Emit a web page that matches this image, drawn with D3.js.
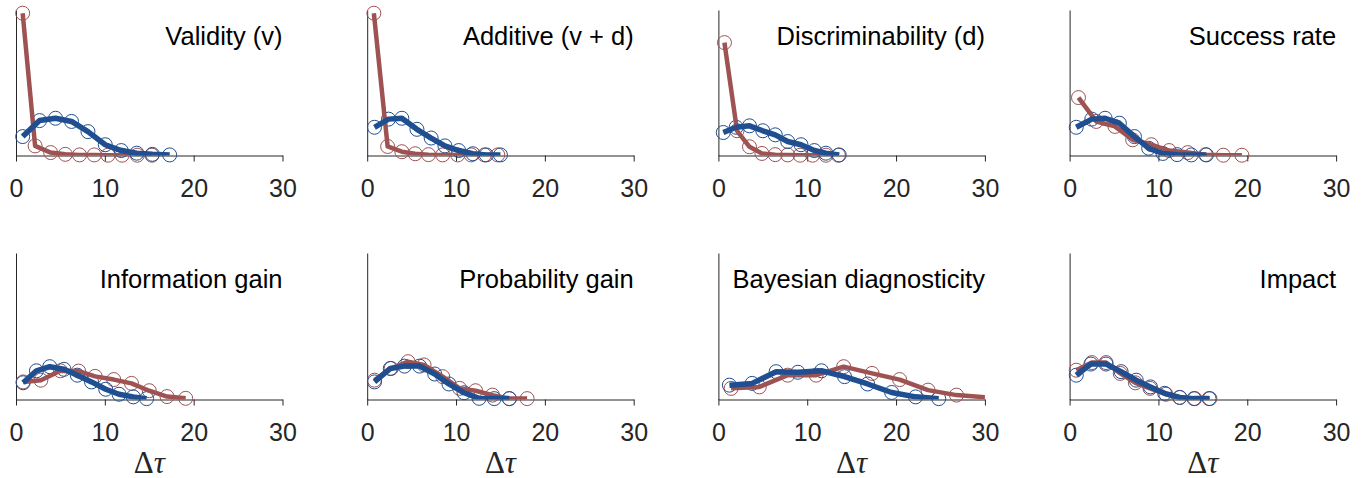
<!DOCTYPE html>
<html>
<head>
<meta charset="utf-8">
<script src="https://cdn.jsdelivr.net/npm/d3@7"></script>
<style>
  body { margin: 0; background: #fff; }
  svg { display: block; }
</style>
</head>
<body>
<svg id="chart"></svg>
<script>
// panel titles, row by row
const titles = ["Validity (v)", "Additive (v + d)", "Discriminability (d)", "Success rate",
                "Information gain", "Probability gain", "Bayesian diagnosticity", "Impact"];
const xTicks = [0, 10, 20, 30];

// red series (one array per panel)
const redX = [
  [0.75, 2.15, 3.9, 5.55, 7.15, 8.8, 10.35, 11.95, 13.65, 15.3],
  [0.75, 2.3, 3.9, 5.4, 6.9, 8.5, 10.2, 11.7, 13.2, 14.7],
  [0.68, 2.1, 3.5, 4.9, 6.4, 7.8, 9.2, 10.6, 12.1, 13.5],
  [1.0, 3.0, 5.1, 7.1, 9.2, 11.2, 13.3, 15.3, 17.3, 19.4],
  [0.8, 2.8, 5.0, 7.05, 8.9, 11.0, 13.0, 15.0, 17.0, 19.1],
  [0.82, 2.7, 4.6, 6.4, 8.5, 10.4, 12.2, 14.1, 16.0, 18.0],
  [1.43, 4.6, 7.8, 11.0, 14.1, 17.3, 20.4, 23.6, 26.8, 30.3],
  [0.75, 2.5, 4.1, 5.7, 7.4, 9.05, 10.85, 12.4, 14.1, 15.8]
];
const redY = [
  [0.489, 0.033, 0.010, 0.004, 0.002, 0.002, 0.001, 0.001, 0.001, 0.001],
  [0.489, 0.031, 0.013, 0.006, 0.003, 0.002, 0.002, 0.002, 0.002, 0.002],
  [0.388, 0.085, 0.030, 0.007, 0.003, 0.002, 0.001, 0.001, 0.001, 0.001],
  [0.199, 0.117, 0.100, 0.054, 0.037, 0.017, 0.010, 0.003, 0.001, 0.001],
  [0.060, 0.066, 0.098, 0.097, 0.079, 0.068, 0.055, 0.030, 0.010, 0.004],
  [0.066, 0.106, 0.129, 0.118, 0.078, 0.038, 0.030, 0.015, 0.003, 0.003],
  [0.038, 0.043, 0.083, 0.083, 0.112, 0.089, 0.068, 0.032, 0.015, 0.007],
  [0.100, 0.126, 0.126, 0.089, 0.057, 0.038, 0.018, 0.007, 0.003, 0.003]
];

// blue series
const blueX = [
  [0.75, 2.65, 4.45, 6.25, 8.1, 10.05, 11.85, 13.6, 15.35, 17.3],
  [0.82, 2.4, 3.9, 5.6, 7.2, 8.75, 10.3, 11.9, 13.4, 15.0],
  [0.55, 2.0, 3.5, 5.0, 6.4, 7.8, 9.3, 10.8, 12.1, 13.6],
  [0.75, 2.5, 4.0, 5.6, 7.3, 8.9, 10.5, 12.1, 13.7, 15.4],
  [0.8, 2.3, 3.8, 5.4, 6.9, 8.5, 10.1, 11.6, 13.2, 14.7],
  [0.82, 2.6, 4.2, 5.9, 7.6, 9.2, 10.9, 12.6, 14.3, 16.0],
  [1.24, 3.8, 6.5, 8.95, 11.6, 14.2, 16.8, 19.5, 22.2, 24.8],
  [0.75, 2.4, 4.1, 5.8, 7.5, 9.1, 10.7, 12.4, 14.0, 15.7]
];
const blueY = [
  [0.065, 0.120, 0.128, 0.117, 0.082, 0.037, 0.017, 0.008, 0.004, 0.002],
  [0.097, 0.125, 0.128, 0.090, 0.060, 0.033, 0.017, 0.006, 0.002, 0.002],
  [0.079, 0.097, 0.102, 0.085, 0.071, 0.048, 0.037, 0.017, 0.008, 0.002],
  [0.097, 0.125, 0.128, 0.111, 0.065, 0.025, 0.007, 0.003, 0.002, 0.002],
  [0.057, 0.098, 0.112, 0.103, 0.083, 0.060, 0.035, 0.018, 0.009, 0.003],
  [0.060, 0.106, 0.114, 0.114, 0.087, 0.053, 0.023, 0.004, 0.003, 0.003],
  [0.049, 0.055, 0.095, 0.093, 0.098, 0.078, 0.053, 0.024, 0.009, 0.003],
  [0.083, 0.121, 0.121, 0.095, 0.066, 0.043, 0.021, 0.007, 0.003, 0.003]
];

const width = 1366, height = 478;
const panelW = 266.5;
const rowTop = [10, 253];
const rowH = [145.5, 146.5];
const redColor = "#9e5252";
const blueColor = "#1f4f91";
const axisColor = "#262626";

const svg = d3.select("#chart").attr("width", width).attr("height", height);

const x = d3.scaleLinear().domain([0, 30]).range([0, panelW]);

titles.forEach((title, p) => {
    const row = Math.floor(p / 4), col = p % 4;
    const left = 16 + col * 351.2;
    const h = rowH[row];
    const y = d3.scaleLinear().domain([0, 0.5]).range([h, 0]);

    const g = svg.append("g").attr("transform", `translate(${left}, ${rowTop[row]})`);

    g.append("clipPath").attr("id", "clip" + p)
        .append("rect").attr("x", 0).attr("y", -20).attr("width", panelW).attr("height", h + 20);

    // y axis: just the line
    g.append("g").call(d3.axisLeft(y).tickValues([]).tickSizeOuter(0))
        .select(".domain").attr("stroke", axisColor);

    const xAxis = g.append("g")
        .attr("transform", `translate(0, ${h})`)
        .call(d3.axisBottom(x).tickValues(xTicks).tickSize(6).tickSizeOuter(0).tickPadding(18));
    xAxis.select(".domain").attr("stroke", axisColor);
    xAxis.selectAll(".tick line").attr("stroke", axisColor);
    xAxis.selectAll(".tick text")
        .attr("fill", axisColor)
        .style("font-family", "'Liberation Sans', Arial, sans-serif")
        .style("font-size", "25px");

    const series = [
        { xs: redX[p], ys: redY[p], color: redColor, lw: 4.5 },
        { xs: blueX[p], ys: blueY[p], color: blueColor, lw: 5.5 }
    ].map(s => ({ ...s, pts: s.xs.map((v, i) => ({ x: v, y: s.ys[i] })) }));

    // markers first, then the thick lines on top
    series.forEach(s => {
        g.append("g").selectAll("circle")
            .data(s.pts.filter(d => d.x <= 30))
            .join("circle")
            .attr("cx", d => x(d.x))
            .attr("cy", d => y(d.y))
            .attr("r", 7)
            .attr("fill", "none")
            .attr("stroke", s.color)
            .attr("stroke-width", 1);
    });

    const line = d3.line().x(d => x(d.x)).y(d => y(d.y));
    series.forEach(s => {
        g.append("path")
            .datum(s.pts)
            .attr("clip-path", `url(#clip${p})`)
            .attr("d", line)
            .attr("fill", "none")
            .attr("stroke", s.color)
            .attr("stroke-width", s.lw)
            .attr("stroke-linejoin", "round");
    });

    g.append("text")
        .attr("x", panelW)
        .attr("y", 35)
        .attr("text-anchor", "end")
        .style("font-family", "'Liberation Sans', Arial, sans-serif")
        .style("font-size", "25.5px")
        .attr("fill", "#000")
        .text(title);

    if (row === 1) {
        const lbl = g.append("text")
            .attr("x", panelW / 2)
            .attr("y", h + 73)
            .attr("text-anchor", "middle")
            .style("font-family", "'Liberation Serif', 'DejaVu Serif', serif")
            .style("font-size", "31px")
            .attr("fill", axisColor);
        lbl.append("tspan").text("Δ");
        lbl.append("tspan").style("font-style", "italic").text("τ");
    }
});
</script>
</body>
</html>
